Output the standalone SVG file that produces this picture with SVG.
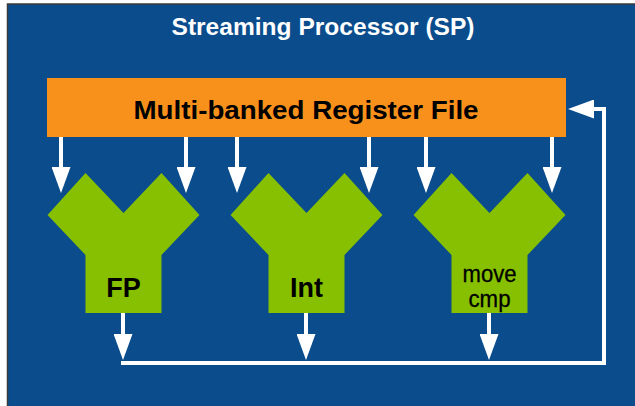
<svg xmlns="http://www.w3.org/2000/svg" width="635" height="406" viewBox="0 0 635 406">
<defs>
<style>
.t{font-family:"Liberation Sans",Arial,Helvetica,sans-serif;text-anchor:middle}
.b{font-weight:bold}
.alu{fill:#86c000}
.wire{fill:none;stroke:#fff;stroke-width:4}
</style>
<marker id="ah" viewBox="0 0 26 19" refX="2" refY="9.5" markerWidth="26" markerHeight="19" markerUnits="userSpaceOnUse" orient="auto">
<path d="M0,0 L26,9.5 L0,19 z" fill="#fff"/>
</marker>
<polygon id="yshape" points="-76,215 -38,173 0,213 38,173 76,215 38,255 38,313 -38,313 -38,255"/>
</defs>
<rect x="0" y="0" width="635" height="406" fill="#fff"/>
<rect id="sp" x="7.5" y="4" width="640" height="410" fill="#0a4c8c" stroke="#3a3a3a" stroke-width="1.5"/>
<text class="t b" x="323" y="35" font-size="23" fill="#fff" textLength="303" lengthAdjust="spacingAndGlyphs">Streaming Processor (SP)</text>
<g id="regfile">
<rect x="47" y="78" width="519" height="59" fill="#f8901c"/>
<text class="t b" x="306" y="119" font-size="26" fill="#000" textLength="345" lengthAdjust="spacingAndGlyphs">Multi-banked Register File</text>
</g>
<g id="fp">
<use href="#yshape" class="alu" transform="translate(123.5,0)"/>
<text class="t b" x="123.5" y="297" font-size="27" fill="#000">FP</text>
</g>
<g id="int">
<use href="#yshape" class="alu" transform="translate(306.5,0)"/>
<text class="t b" x="306.5" y="297" font-size="27" fill="#000">Int</text>
</g>
<g id="movecmp">
<use href="#yshape" class="alu" transform="translate(489.5,0)"/>
<text class="t" x="489.5" y="282" font-size="23" fill="#000" stroke="#000" stroke-width="0.3" textLength="54" lengthAdjust="spacingAndGlyphs">move</text>
<text class="t" x="489.5" y="307" font-size="23" fill="#000" stroke="#000" stroke-width="0.3" textLength="42" lengthAdjust="spacingAndGlyphs">cmp</text>
</g>
<g id="connectors">
<line class="wire" x1="61" y1="137" x2="61" y2="169" marker-end="url(#ah)"/>
<line class="wire" x1="186" y1="137" x2="186" y2="169" marker-end="url(#ah)"/>
<line class="wire" x1="237" y1="137" x2="237" y2="169" marker-end="url(#ah)"/>
<line class="wire" x1="369" y1="137" x2="369" y2="169" marker-end="url(#ah)"/>
<line class="wire" x1="426" y1="137" x2="426" y2="169" marker-end="url(#ah)"/>
<line class="wire" x1="552" y1="137" x2="552" y2="169" marker-end="url(#ah)"/>
<line class="wire" x1="123" y1="313" x2="123" y2="336" marker-end="url(#ah)"/>
<line class="wire" x1="306" y1="313" x2="306" y2="336" marker-end="url(#ah)"/>
<line class="wire" x1="489" y1="313" x2="489" y2="336" marker-end="url(#ah)"/>
<path class="wire" d="M121,363 H604 V109 H592" marker-end="url(#ah)"/>
</g>
</svg>
